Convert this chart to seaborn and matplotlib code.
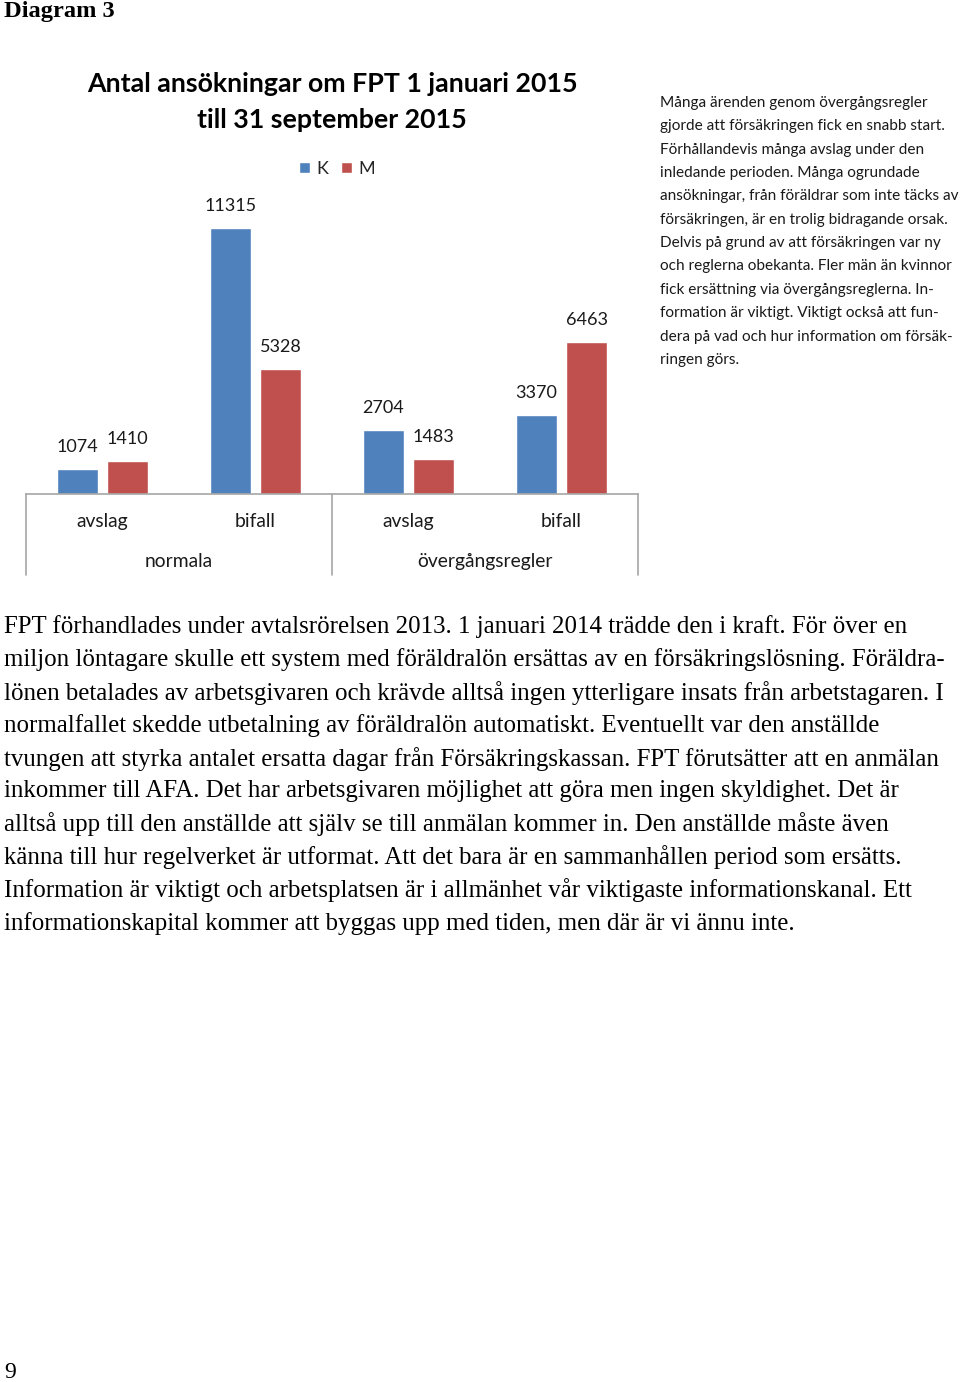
import pandas as pd
import matplotlib
matplotlib.use('Agg')
import matplotlib.pyplot as plt
import matplotlib.transforms as mtransforms
import seaborn as sns

# data
kategorier = ['normala avslag', 'normala bifall', 'övergång avslag', 'övergång bifall']
under_etiketter = ['avslag', 'bifall', 'avslag', 'bifall']
grupper = ['normala', 'övergångsregler']
kvinnor = [1074, 11315, 2704, 3370]
man = [1410, 5328, 1483, 6463]

titel = 'Antal ansökningar om FPT 1 januari 2015\ntill 31 september 2015'

sidotext = [
    'Många ärenden genom övergångsregler',
    'gjorde att försäkringen fick en snabb start.',
    'Förhållandevis många avslag under den',
    'inledande perioden. Många ogrundade',
    'ansökningar, från föräldrar som inte täcks av',
    'försäkringen, är en trolig bidragande orsak.',
    'Delvis på grund av att försäkringen var ny',
    'och reglerna obekanta. Fler män än kvinnor',
    'fick ersättning via övergångsreglerna. In-',
    'formation är viktigt. Viktigt också att fun-',
    'dera på vad och hur information om försäk-',
    'ringen görs.',
]

brodtext = [
    'FPT förhandlades under avtalsrörelsen 2013. 1 januari 2014 trädde den i kraft. För över en',
    'miljon löntagare skulle ett system med föräldralön ersättas av en försäkringslösning. Föräldra-',
    'lönen betalades av arbetsgivaren och krävde alltså ingen ytterligare insats från arbetstagaren. I',
    'normalfallet skedde utbetalning av föräldralön automatiskt. Eventuellt var den anställde',
    'tvungen att styrka antalet ersatta dagar från Försäkringskassan. FPT förutsätter att en anmälan',
    'inkommer till AFA. Det har arbetsgivaren möjlighet att göra men ingen skyldighet. Det är',
    'alltså upp till den anställde att själv se till anmälan kommer in. Den anställde måste även',
    'känna till hur regelverket är utformat. Att det bara är en sammanhållen period som ersätts.',
    'Information är viktigt och arbetsplatsen är i allmänhet vår viktigaste informationskanal. Ett',
    'informationskapital kommer att byggas upp med tiden, men där är vi ännu inte.',
]

df = pd.DataFrame({
    'kategori': kategorier * 2,
    'kon': ['K'] * 4 + ['M'] * 4,
    'antal': kvinnor + man,
})

W, H = 960, 1382

def fx(x):
    return x / W

def fy(y):
    return 1 - y / H

sns.set_style('white')
plt.rcParams['font.family'] = ['Lato', 'DejaVu Sans']

fig = plt.figure(figsize=(W / 100, H / 100), dpi=100)
ax = fig.add_axes([fx(26), fy(494), (638 - 26) / W, (494 - 140) / H])

sns.barplot(data=df, x='kategori', y='antal', hue='kon', order=kategorier,
            palette=['#4F81BD', '#C0504D'], width=0.654, gap=0.18,
            errorbar=None, saturation=1, ax=ax)

ax.set_xlim(-0.5, 3.5)
ax.set_ylim(0, 15060)
ax.set_xlabel('')
ax.set_ylabel('')
ax.set_yticks([])
ax.set_xticks([])
for s in ['left', 'right', 'top']:
    ax.spines[s].set_visible(False)
ax.spines['bottom'].set_color('#A6A6A6')
ax.spines['bottom'].set_linewidth(1.2)

# data labels
for cont in ax.containers:
    for bar in cont:
        h = bar.get_height()
        ax.annotate(f'{int(h)}', (bar.get_x() + bar.get_width() / 2, h),
                    xytext=(0, 15.8), textcoords='offset points',
                    ha='center', va='center', fontsize=13, color='#1a1a1a')

# multi-level category axis
ax_h = 494 - 140
trans = mtransforms.blended_transform_factory(ax.transData, ax.transAxes)
for i, lab in enumerate(under_etiketter):
    ax.text(i, -27 / ax_h, lab, transform=trans, ha='center', va='center',
            fontsize=13.9, color='#1a1a1a')
for j, g in enumerate(grupper):
    ax.text(2 * j + 0.5, -67 / ax_h, g, transform=trans, ha='center', va='center',
            fontsize=13.9, color='#1a1a1a')
for xs in [-0.5, 1.5, 3.5]:
    ax.plot([xs, xs], [0, -81 / ax_h], transform=trans, color='#A6A6A6',
            lw=1.2, clip_on=False)

# legend
ax.legend(loc='center', bbox_to_anchor=(fx(337), fy(169)),
          bbox_transform=fig.transFigure, frameon=False, ncol=2,
          fontsize=13, handlelength=0.61, handleheight=0.61,
          handletextpad=0.35, columnspacing=0.75)

# title
fig.text(fx(332), fy(102), titel, ha='center', va='center', fontsize=19.25,
         fontweight='bold', linespacing=1.62, color='#000000')

# side text
for k, line in enumerate(sidotext):
    fig.text(fx(660), fy(103 + k * 23.35), line, ha='left', va='center',
             fontsize=11.05, color='#1a1a1a')

# body text
serif = ['Liberation Serif', 'DejaVu Serif']
fig.text(fx(4), fy(11), 'Diagram 3', ha='left', va='center', fontsize=17.6,
         fontweight='bold', family=serif, color='#000000')
for k, line in enumerate(brodtext):
    fig.text(fx(4), fy(627 + k * 32.9), line, ha='left', va='center',
             fontsize=17.9, family=serif, color='#000000')
fig.text(fx(4), fy(1372), '9', ha='left', va='center', fontsize=17,
         family=serif, color='#000000')

fig.savefig('out.png', dpi=100)
